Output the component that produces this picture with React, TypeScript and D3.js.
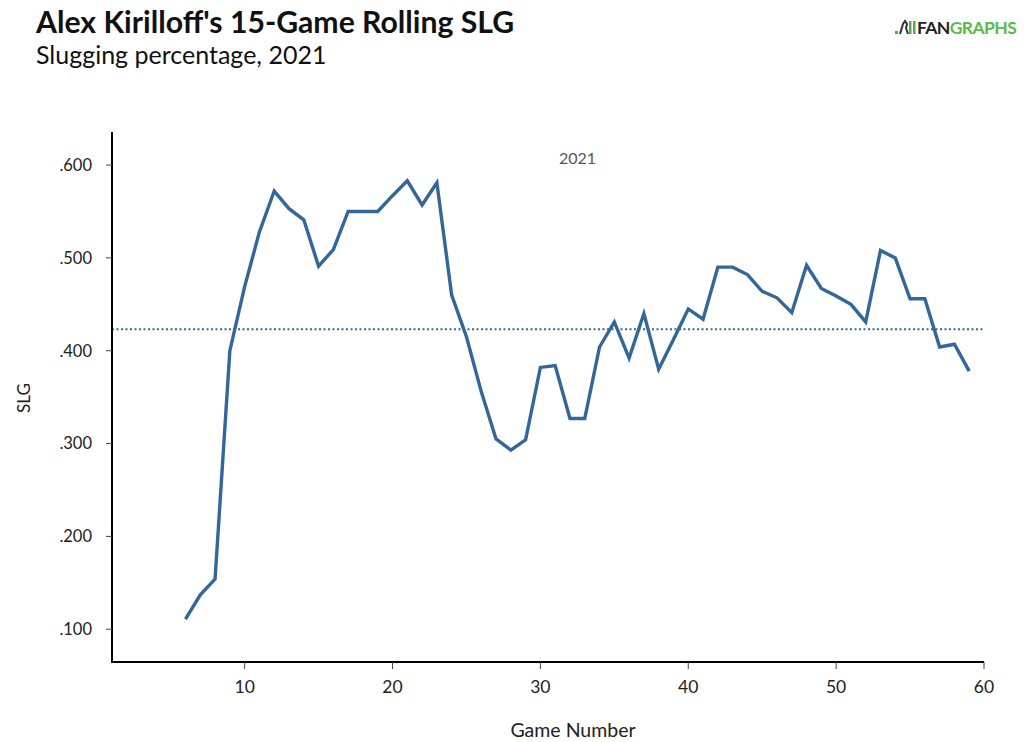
import React from "react";
import * as d3 from "d3";

const games: number[] = [6, 7, 8, 9, 10, 11, 12, 13, 14, 15, 16, 17, 18, 19, 20, 21, 22, 23, 24, 25, 26, 27, 28, 29, 30, 31, 32, 33, 34, 35, 36, 37, 38, 39, 40, 41, 42, 43, 44, 45, 46, 47, 48, 49, 50, 51, 52, 53, 54, 55, 56, 57, 58, 59];
const slg: number[] = [0.111, 0.137, 0.154, 0.400, 0.469, 0.528, 0.572, 0.553, 0.541, 0.491, 0.509, 0.550, 0.550, 0.550, 0.567, 0.583, 0.557, 0.581, 0.460, 0.415, 0.356, 0.305, 0.293, 0.304, 0.382, 0.384, 0.327, 0.327, 0.404, 0.431, 0.392, 0.440, 0.380, 0.412, 0.445, 0.434, 0.490, 0.490, 0.482, 0.464, 0.457, 0.441, 0.492, 0.467, 0.459, 0.450, 0.431, 0.508, 0.500, 0.456, 0.456, 0.404, 0.407, 0.378];
const seasonAvg = 0.423;
const xTicks: number[] = [10, 20, 30, 40, 50, 60];
const yTicks: number[] = [0.1, 0.2, 0.3, 0.4, 0.5, 0.6];

const W = 1026;
const H = 742;
const left = 112;
const right = 984;
const top = 132;
const bottom = 662;

export default function App() {
  const x = d3.scaleLinear().domain([1.03, 60]).range([left, right]);
  const y = d3.scaleLinear().domain([0.0647, 0.6356]).range([bottom, top]);
  const line = d3
    .line<number>()
    .x((_, i) => x(games[i]))
    .y((d) => y(d));
  const fmt = (v: number) => d3.format(".3f")(v).replace(/^0/, "");
  const font = "Lato, 'Open Sans', sans-serif";

  return (
    <svg
      width={W}
      height={H}
      style={{ position: "absolute", left: 0, top: 0, background: "#fff" }}
      fontFamily={font}
    >
      <text x={36} y={33} fontSize={30.2} fontWeight={700} fill="#111">
        Alex Kirilloff's 15-Game Rolling SLG
      </text>
      <text x={36} y={64} fontSize={25} fill="#111">
        Slugging percentage, 2021
      </text>

      {/* logo */}
      <g transform="translate(895,34)">
        <rect x={0} y={-3} width={3} height={3} fill="#4caf50" />
        <path d="M5,0 L8,-10 L10,-13 L12,-10 L11,-6 L13,0" stroke="#333" strokeWidth={2} fill="none" />
        <rect x={14} y={-13} width={2.5} height={13} fill="#4caf50" />
        <rect x={18} y={-13} width={2.5} height={13} fill="#4caf50" />
        <text x={22} y={0} fontSize={17.5} fontWeight={700} fill="#222" letterSpacing={-0.6}>
          FAN
          <tspan fill="#5cb94a">GRAPHS</tspan>
        </text>
      </g>

      {/* season average */}
      <line
        x1={left}
        x2={right + 1}
        y1={y(seasonAvg)}
        y2={y(seasonAvg)}
        stroke="#336699"
        strokeWidth={2}
        strokeDasharray="2,2.5"
      />

      <text x={577.5} y={164} fontSize={16} fill="#555" textAnchor="middle">
        2021
      </text>

      <path d={line(slg) || ""} fill="none" stroke="#336699" strokeWidth={3.4} strokeLinejoin="miter" />

      {/* y axis */}
      <line x1={left} x2={left} y1={top} y2={bottom + 1} stroke="#000" strokeWidth={2} />
      {yTicks.map((t) => (
        <g key={t}>
          <line x1={left - 6} x2={left} y1={y(t)} y2={y(t)} stroke="#444" strokeWidth={1} />
          <text x={92} y={y(t)} dy="0.36em" fontSize={16.5} fill="#222" textAnchor="end">
            {fmt(t)}
          </text>
        </g>
      ))}
      <text
        transform={`translate(30,398) rotate(-90)`}
        fontSize={17}
        fill="#222"
        textAnchor="middle"
      >
        SLG
      </text>

      {/* x axis */}
      <line x1={left - 1} x2={right} y1={bottom} y2={bottom} stroke="#000" strokeWidth={2} />
      {xTicks.map((t) => (
        <g key={t}>
          <line x1={x(t)} x2={x(t)} y1={bottom} y2={bottom + 7} stroke="#444" strokeWidth={1} />
          <text x={x(t)} y={692.5} fontSize={17.5} fill="#222" textAnchor="middle">
            {t}
          </text>
        </g>
      ))}
      <text x={573} y={737} fontSize={19.5} fill="#222" textAnchor="middle">
        Game Number
      </text>
    </svg>
  );
}
